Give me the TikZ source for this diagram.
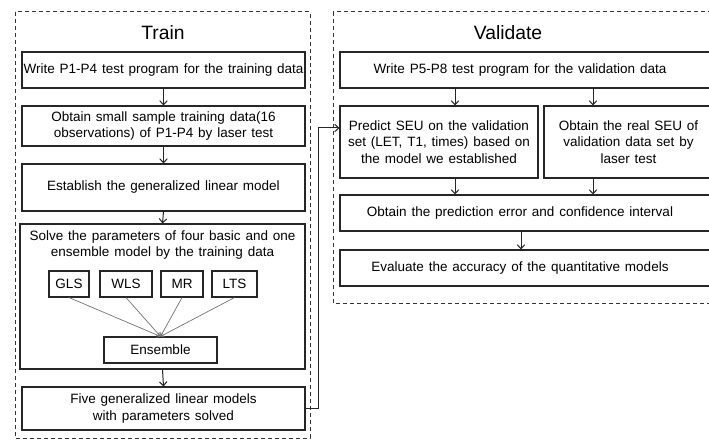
\documentclass[tikz,border=0pt]{standalone}
\usepackage{fontspec}
\setmainfont{Liberation Sans}
\usetikzlibrary{arrows.meta}
\newcommand{\boxfont}{\fontsize{13.5}{16.5}\selectfont\spaceskip=0.36em plus 0.1em minus 0.05em\relax}
\begin{document}
\begin{tikzpicture}[x=1pt,y=-1pt,
  box/.style={draw=black!85, line width=1.1pt, fill=white, inner sep=0pt,
    font=\boxfont, align=center},
  small/.style={box, minimum height=26},
  frame/.style={draw=black!80, line width=1pt, dash pattern=on 4pt off 3pt},
  title/.style={font=\fontsize{19.3}{22}\selectfont},
  txt/.style={font=\boxfont, align=center, inner sep=0pt},
  arr/.style={draw=black!85, line width=1pt, -{Straight Barb[length=4pt,width=7.5pt]}},
  thin/.style={draw=black!55, line width=0.7pt, -{Straight Barb[length=3pt,width=5pt]}}]
\useasboundingbox (0,0) rectangle (709,441);
\clip (0,0) rectangle (709,441);

% dashed group frames
\draw[frame] (15,12) rectangle (310,438);
\draw[frame] (333,12) rectangle (725,303);
\node[title] (ttrain) at (163,33) {Train};
\node[title] (tval) at (508,33) {Validate};

% training column
\node[box, minimum width=283, minimum height=36] (b1) at (163.5,70)
  {Write P1-P4 test program for the training data};
\node[box, minimum width=283, minimum height=40] (b2) at (163.5,126)
  {Obtain small sample training data(16\\observations) of P1-P4 by laser test};
\node[box, minimum width=283, minimum height=47] (b3) at (163.5,187.5)
  {Establish the generalized linear model};
\node[box, minimum width=285, minimum height=145] (b4) at (162.5,296.5) {};
\node[txt] (b4t) at (162.5,245)
  {Solve the parameters of four basic and one\\ensemble model by the training data};
\node[small, minimum width=40] (gls) at (69,284) {GLS};
\node[small, minimum width=52] (wls) at (126,284) {WLS};
\node[small, minimum width=42] (mr) at (182,284) {MR};
\node[small, minimum width=45] (lts) at (234.5,284) {LTS};
\node[small, minimum width=113] (ens) at (160.5,350) {Ensemble};
\node[box, minimum width=283, minimum height=43] (b5) at (163.5,408.5)
  {Five generalized linear models\\with parameters solved};

\foreach \m in {gls,wls,mr,lts} \draw[thin] (\m.south) -- (ens.north);
\draw[arr] (b1.south) -- (b2.north);
\draw[arr] (b2.south) -- (b3.north);
\draw[arr] (b3.south) -- (b4.north);
\draw[arr] (b4.south) -- (b5.north);

% validation column
\node[box, minimum width=373, minimum height=36] (v1) at (526.5,70) {};
\node[txt] (v1t) at (520,70) {Write P5-P8 test program for the validation data};
\node[box, minimum width=198, minimum height=72] (pr) at (439,142)
  {Predict SEU on the validation\\set (LET, T1, times) based on\\the model we established};
\node[box, minimum width=169, minimum height=72] (rl) at (628.5,142)
  {Obtain the real SEU of\\validation data set by\\laser test};
\node[box, minimum width=373, minimum height=36] (er) at (526.5,213) {};
\node[txt] (ert) at (520,213) {Obtain the prediction error and confidence interval};
\node[box, minimum width=373, minimum height=36] (ev) at (526.5,268) {};
\node[txt] (evt) at (520,268) {Evaluate the accuracy of the quantitative models};

\draw[arr] (v1.south -| 455,0) -- (pr.north -| 455,0);
\draw[arr] (v1.south -| 593,0) -- (rl.north -| 593,0);
\draw[arr] (pr.south -| 455,0) -- (er.north -| 455,0);
\draw[arr] (rl.south -| 593,0) -- (er.north -| 593,0);
\draw[arr] (er.south -| 521,0) -- (ev.north -| 521,0);

% link from the trained models to the prediction step
\coordinate (turn) at (318,128);
\draw[arr] (b5.east) -| (turn) -- (turn -| pr.west);
\end{tikzpicture}
\end{document}
